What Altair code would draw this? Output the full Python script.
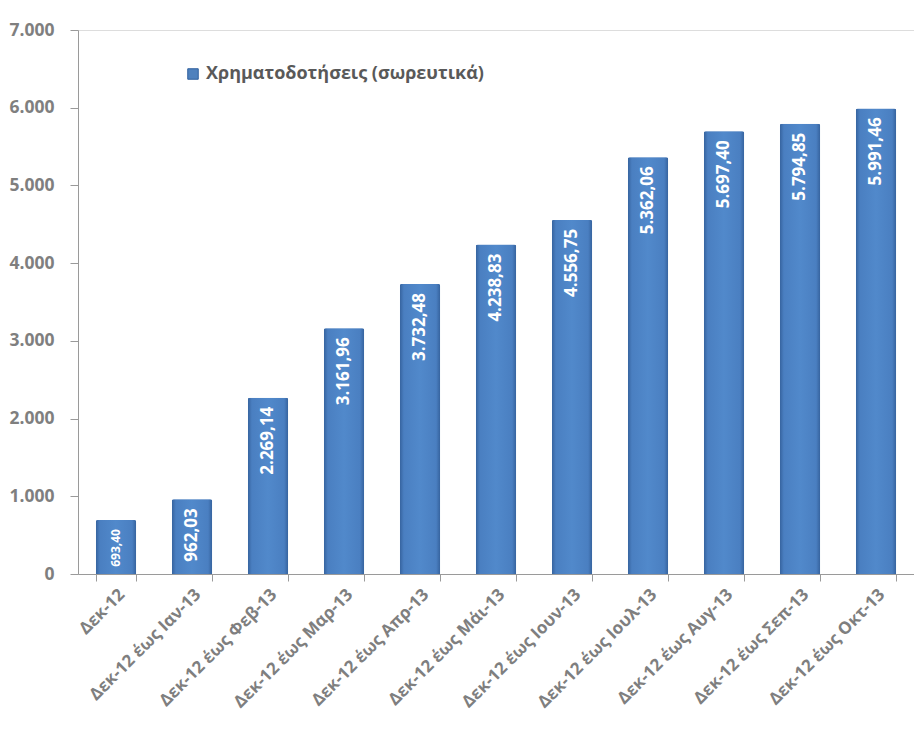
import altair as alt
import pandas as pd

categories = [
    "Δεκ-12",
    "Δεκ-12 έως Ιαν-13",
    "Δεκ-12 έως Φεβ-13",
    "Δεκ-12 έως Μαρ-13",
    "Δεκ-12 έως Απρ-13",
    "Δεκ-12 έως Μάι-13",
    "Δεκ-12 έως Ιουν-13",
    "Δεκ-12 έως Ιουλ-13",
    "Δεκ-12 έως Αυγ-13",
    "Δεκ-12 έως Σεπ-13",
    "Δεκ-12 έως Οκτ-13",
]
values = [693.40, 962.03, 2269.14, 3161.96, 3732.48, 4238.83, 4556.75, 5362.06, 5697.40, 5794.85, 5991.46]
series_name = "Χρηματοδοτήσεις (σωρευτικά)"
y_ticks = [0, 1000, 2000, 3000, 4000, 5000, 6000, 7000]

df = pd.DataFrame({"cat": categories, "value": values, "series": [series_name] * len(values)})

FONT = "Open Sans"
GREY = "#7f7f7f"

x_enc = alt.X(
    "cat:N",
    sort=categories,
    title=None,
    scale=alt.Scale(paddingInner=0.47, paddingOuter=0.235),
    axis=alt.Axis(
        labelAngle=-45,
        labelFont=FONT,
        labelFontSize=17,
        labelFontWeight="bold",
        labelColor=GREY,
        labelPadding=5,
        tickBand="extent",
        tickSize=7,
        tickColor="#9a9a9a",
        domainColor="#9a9a9a",
        grid=False,
        labelOverlap=False,
    ),
)
y_enc = alt.Y(
    "value:Q",
    title=None,
    scale=alt.Scale(domain=[0, 7000], nice=False),
    axis=alt.Axis(
        values=y_ticks,
        format=",d",
        labelFont=FONT,
        labelFontSize=17.5,
        labelFontWeight="bold",
        labelColor=GREY,
        labelPadding=16,
        tickSize=8,
        tickColor="#9a9a9a",
        domainColor="#9a9a9a",
        grid=False,
    ),
)

base = alt.Chart(df)

bars = base.mark_bar(cornerRadiusTopLeft=2, cornerRadiusTopRight=2).encode(
    x=x_enc,
    y=y_enc,
    color=alt.Color(
        "series:N",
        scale=alt.Scale(range=["#4F81BD"]),
        legend=alt.Legend(
            title=None,
            orient="none",
            legendX=106,
            legendY=35,
            padding=0,
            symbolType="square",
            symbolSize=110,
            symbolStrokeColor="#2f5f9e",
            symbolStrokeWidth=1,
            labelFont=FONT,
            labelFontSize=18,
            labelFontWeight="bold",
            labelColor="#595959",
            labelLimit=400,
        ),
    ),
)

grad = alt.LinearGradient(
    gradient="linear",
    x1=0, x2=1, y1=0, y2=0,
    stops=[
        alt.GradientStop(offset=0, color="#36639e"),
        alt.GradientStop(offset=0.1, color="#4a7fc1"),
        alt.GradientStop(offset=0.5, color="#5189cb"),
        alt.GradientStop(offset=0.9, color="#4a7fc1"),
        alt.GradientStop(offset=1, color="#36639e"),
    ],
)
overlay = base.mark_bar(color=grad, cornerRadiusTopLeft=2, cornerRadiusTopRight=2).encode(
    x=alt.X("cat:N", sort=categories),
    y=alt.Y("value:Q"),
)

labels = base.mark_text(
    angle=270,
    align="right",
    baseline="middle",
    yOffset=9,
    font=FONT,
    fontWeight="bold",
    color="white",
).encode(
    x=alt.X("cat:N", sort=categories),
    y=alt.Y("value:Q"),
    text=alt.Text("value:Q", format=",.2f"),
    size=alt.condition("datum.value < 800", alt.value(12), alt.value(17)),
)

chart = (
    alt.layer(bars, overlay, labels)
    .properties(width=836, height=544, padding={"top": 13, "left": 0, "right": 0, "bottom": 0})
    .configure_view(stroke=None)
    .configure(locale={"number": {"decimal": ",", "thousands": ".", "grouping": [3], "currency": ["", " €"]}})
)

chart.save("out.html", embed_options={"renderer": "svg", "actions": False})
